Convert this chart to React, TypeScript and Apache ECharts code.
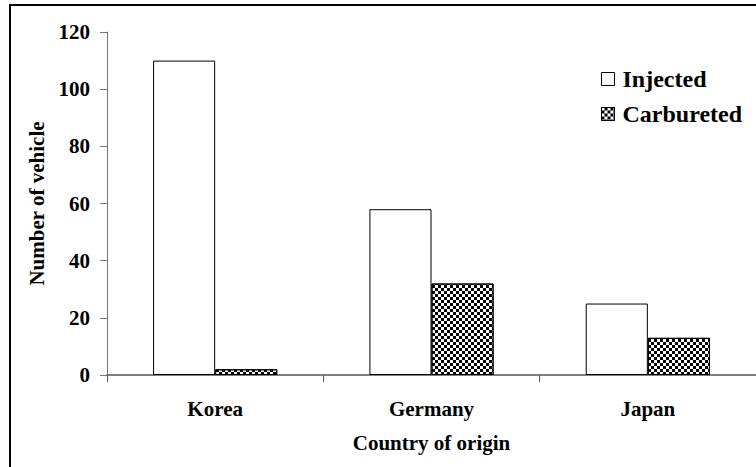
import React, { useEffect, useRef } from "react";
import * as echarts from "echarts";

const categories = ["Korea", "Germany", "Japan"];
const injected = [110, 58, 25];
const carbureted = [2, 32, 13];
const yTicks = { min: 0, max: 120, interval: 20 };

export default function App() {
  const ref = useRef<HTMLDivElement>(null);
  useEffect(() => {
    if (!ref.current) return;
    const chart = echarts.init(ref.current, undefined, { renderer: "svg" });
    const font = "'Liberation Serif', 'Times New Roman', serif";
    const decal = {
      symbol: "rect",
      symbolSize: 1,
      color: "#000",
      backgroundColor: "#fff",
      dashArrayX: [[3, 3], [0, 3, 3, 0]],
      dashArrayY: [3, 0],
      rotation: 0,
    };
    chart.setOption({
      animation: false,
      textStyle: { fontFamily: font },
      graphic: [
        {
          type: "rect",
          shape: { x: 10, y: 5, width: 800, height: 500 },
          style: { fill: "none", stroke: "#000", lineWidth: 2 },
          z: 100,
        },
      ],
      legend: {
        orient: "vertical",
        left: 596,
        top: 62,
        icon: "rect",
        itemWidth: 13,
        itemHeight: 13,
        itemGap: 11,
        itemStyle: { borderWidth: 1, borderColor: "#000" },
        textStyle: { fontFamily: font, fontSize: 24, fontWeight: "bold", color: "#000", padding: [0, 0, 0, 3] },
        data: ["Injected", "Carbureted"],
      },
      grid: { left: 107, top: 32, right: 0, bottom: 92, containLabel: false },
      xAxis: {
        type: "category",
        data: categories,
        name: "Country of origin",
        nameLocation: "middle",
        nameGap: 57,
        nameTextStyle: { fontFamily: font, fontSize: 21, fontWeight: "bold", color: "#000" },
        axisLine: { lineStyle: { color: "#555", width: 1.5 } },
        axisTick: { show: true, length: 7, inside: false, lineStyle: { color: "#555" } },
        axisLabel: { fontFamily: font, fontSize: 21, fontWeight: "bold", color: "#000", margin: 23 },
      },
      yAxis: {
        type: "value",
        min: yTicks.min,
        max: yTicks.max,
        interval: yTicks.interval,
        name: "Number of vehicle",
        nameLocation: "middle",
        nameGap: 60,
        nameRotate: 90,
        nameTextStyle: { fontFamily: font, fontSize: 21, fontWeight: "bold", color: "#000" },
        axisLine: { show: true, lineStyle: { color: "#777", width: 1 } },
        axisTick: { show: true, length: 7, lineStyle: { color: "#777" } },
        axisLabel: { fontFamily: font, fontSize: 21, fontWeight: "bold", color: "#000", margin: 17 },
        splitLine: { show: false },
      },
      series: [
        {
          name: "Injected",
          type: "bar",
          data: injected,
          barGap: "0%",
          barCategoryGap: "42.6%",
          itemStyle: { color: "#fff", borderColor: "#000", borderWidth: 1 },
        },
        {
          name: "Carbureted",
          type: "bar",
          data: carbureted,
          barGap: "0%",
          barCategoryGap: "42.6%",
          itemStyle: { color: "#fff", borderColor: "#000", borderWidth: 1, decal },
        },
      ],
    });
    return () => chart.dispose();
  }, []);
  return (
    <div
      ref={ref}
      style={{ position: "fixed", left: 0, top: 0, width: 756, height: 467, background: "#fff" }}
    />
  );
}
